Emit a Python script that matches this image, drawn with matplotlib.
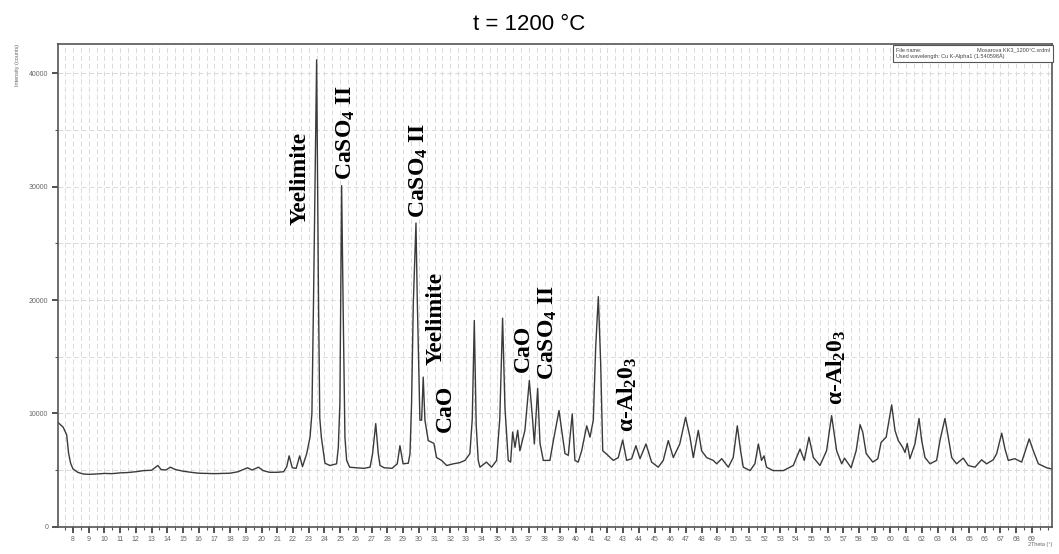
import numpy as np
import matplotlib
matplotlib.use('Agg')
import matplotlib.pyplot as plt
from matplotlib.ticker import MultipleLocator

plt.rcParams['font.family'] = ['Liberation Sans', 'DejaVu Sans']
plt.rcParams['mathtext.fontset'] = 'custom'
plt.rcParams['mathtext.rm'] = 'Liberation Serif:bold'
plt.rcParams['mathtext.it'] = 'Liberation Serif:bold'
plt.rcParams['mathtext.bf'] = 'Liberation Serif:bold'

# 2theta (deg) and intensity (counts)
two_theta = [7.05, 7.38, 7.6, 7.72, 7.85, 8.0, 8.3, 8.65, 9.0, 9.5, 10.0, 10.5, 11.0, 11.5,
             12.0, 12.5, 13.0, 13.4, 13.6, 13.9, 14.2, 14.5, 15.0, 15.5, 16.0, 16.5, 17.0,
             17.5, 18.0, 18.5, 19.1, 19.4, 19.8, 20.1, 20.5, 21.0, 21.4, 21.6, 21.75, 21.95,
             22.2, 22.42, 22.6, 22.87, 23.08, 23.2, 23.3, 23.5, 23.62, 23.7, 23.8, 24.03,
             24.35, 24.77, 24.88, 24.98, 25.09, 25.19, 25.3, 25.41, 25.6, 26.0, 26.5, 26.9,
             27.06, 27.26, 27.42, 27.53, 27.8, 28.3, 28.63, 28.8, 29.0, 29.33, 29.44, 29.54,
             29.65, 29.82, 29.9, 30.07, 30.18, 30.28, 30.39, 30.6, 30.96, 31.13, 31.45, 31.77,
             32.2, 32.6, 32.94, 33.25, 33.4, 33.53, 33.65, 33.78, 33.89, 34.3, 34.63, 34.95,
             35.15, 35.33, 35.48, 35.69, 35.84, 35.97, 36.12, 36.29, 36.43, 36.75, 37.03,
             37.24, 37.35, 37.56, 37.71, 37.92, 38.34, 38.56, 38.92, 39.09, 39.3, 39.51, 39.76,
             39.93, 40.14, 40.36, 40.68, 40.89, 41.1, 41.25, 41.42, 41.57, 41.7, 41.95, 42.37,
             42.69, 42.97, 43.22, 43.54, 43.81, 44.07, 44.45, 44.81, 45.23, 45.55, 45.87,
             46.19, 46.6, 46.97, 47.25, 47.46, 47.78, 47.99, 48.31, 48.73, 48.95, 49.27, 49.69,
             50.0, 50.26, 50.47, 50.64, 51.07, 51.38, 51.6, 51.8, 51.96, 52.12, 52.54, 53.19,
             53.82, 54.25, 54.52, 54.82, 55.1, 55.52, 55.94, 56.26, 56.58, 56.9, 57.08, 57.5,
             57.82, 58.07, 58.24, 58.46, 58.88, 59.2, 59.41, 59.73, 60.08, 60.29, 60.5, 60.78,
             60.93, 61.07, 61.24, 61.56, 61.82, 61.99, 62.2, 62.52, 62.94, 63.15, 63.47, 63.68,
             63.9, 64.21, 64.63, 64.95, 65.38, 65.8, 66.12, 66.54, 66.76, 67.08, 67.29, 67.5,
             67.92, 68.35, 68.83, 69.09, 69.41, 69.94, 70.25]
counts = [9200, 8770, 8100, 6500, 5600, 5100, 4800, 4650, 4620, 4650, 4700, 4680, 4750, 4780,
          4850, 4950, 4980, 5400, 5050, 5000, 5250, 5050, 4900, 4800, 4720, 4700, 4680,
          4700, 4720, 4850, 5200, 5000, 5250, 4950, 4800, 4800, 4850, 5300, 6250, 5200,
          5150, 6250, 5300, 6450, 7900, 10000, 19700, 41200, 20000, 9600, 7900, 5600,
          5400, 5550, 7000, 10900, 30100, 19000, 7900, 5850, 5250, 5200, 5150, 5250,
          6450, 9100, 6450, 5400, 5200, 5150, 5550, 7150, 5550, 5600, 6450, 10900,
          19700, 26800, 20200, 9400, 9400, 13200, 9400, 7600, 7350, 6100, 5850, 5400,
          5550, 5650, 5850, 6450, 9500, 18200, 9000, 5850, 5250, 5700, 5250, 5850,
          9500, 18400, 10500, 5850, 5700, 8350, 7000, 8500, 6700, 8500, 12900,
          9400, 7300, 12200, 7350, 5850, 5850, 7600, 10250, 8500, 6450, 6300, 9950,
          5850, 5700, 6700, 8900, 7900, 9400, 15800, 20300, 14400, 6700, 6400, 5850,
          6100, 7650, 5850, 6000, 7150, 6000, 7300, 5700, 5250, 5850, 7600,
          6100, 7300, 9650, 7900, 6100, 8500, 6700, 6100, 5850, 5550, 6000, 5250,
          6100, 8900, 6700, 5250, 4950, 5550, 7300, 5850, 6250, 5250, 4950, 4950,
          5400, 6850, 5850, 7900, 6100, 5400, 6700, 9800, 6700, 5550, 6050, 5200,
          6700, 9000, 8350, 6450, 5700, 6000, 7450, 7900, 10750, 8500, 7600, 7000,
          6550, 7350, 6000, 7300, 9550, 7600, 6100, 5550, 5850, 7600, 9550, 7900,
          6100, 5550, 6050, 5400, 5250, 5900, 5550, 5900, 6450, 8250, 6850, 5850,
          6000, 5700, 7750, 6700, 5550, 5200, 5100]

# phase labels: text, 2theta position, counts at the text's lower end
labels = ['Yeelimite', r'CaSO$_4$ II', r'CaSO$_4$ II', 'Yeelimite', 'CaO', 'CaO',
          r'CaSO$_4$ II', r'α-Al$_2$0$_3$', r'α-Al$_2$0$_3$']
label_x = [22.42, 25.37, 30.0, 31.13, 31.66, 36.63, 38.2, 43.24, 56.54]
label_y = [26630, 30570, 27210, 14270, 8360, 13650, 12950, 8360, 10740]

fig = plt.figure(figsize=(10.59, 5.54), dpi=100)
ax = fig.add_axes([0.0548, 0.0493, 0.9386, 0.8713])

ax.plot(two_theta, counts, color='#3a3a3a', lw=1.0)

ax.set_xlim(7.05, 70.28)
ax.set_ylim(0, 42600)
ax.xaxis.set_major_locator(MultipleLocator(1))
ax.xaxis.set_minor_locator(MultipleLocator(0.5))
ax.yaxis.set_major_locator(MultipleLocator(10000))
ax.yaxis.set_minor_locator(MultipleLocator(5000))
ax.set_xticks(np.arange(8, 70, 1))
ax.tick_params(axis='both', which='major', labelsize=5, labelcolor='#666666',
               color='#333333', length=4, width=1.2, pad=3)
ax.tick_params(axis='both', which='minor', color='#555555', length=2.5, width=0.8)
ax.grid(which='both', color='#dadada', lw=0.7, ls=(0, (5, 3)))
ax.set_axisbelow(True)
for s in ax.spines.values():
    s.set_color('#555555')
    s.set_linewidth(1.2)

fig.text(0.5, 0.955, 't = 1200 °C', fontsize=16, ha='center', va='center')
fig.text(0.014, 0.92, 'Intensity (counts)', rotation=90, fontsize=4,
         color='#666666', ha='left', va='top')
fig.text(0.994, 0.012, '2Theta (°)', fontsize=4, color='#666666', ha='right', va='bottom')

for t, x, y in zip(labels, label_x, label_y):
    ax.text(x, y, t, rotation=90, ha='center', va='bottom', fontsize=17,
            family='Liberation Serif', weight='bold', color='black')

info = ('File name:                                     Mosarova KK3_1200°C.xrdml\n'
        'Used wavelength: Cu K-Alpha1 (1.540598Å)')
ax.text(0.9978, 0.993, info, transform=ax.transAxes, ha='right', va='top',
        multialignment='left', fontsize=4, color='#444444', linespacing=1.3,
        bbox=dict(boxstyle='square,pad=0.5', fc='white', ec='#555555', lw=0.8))

fig.savefig('out.png', dpi=100)
